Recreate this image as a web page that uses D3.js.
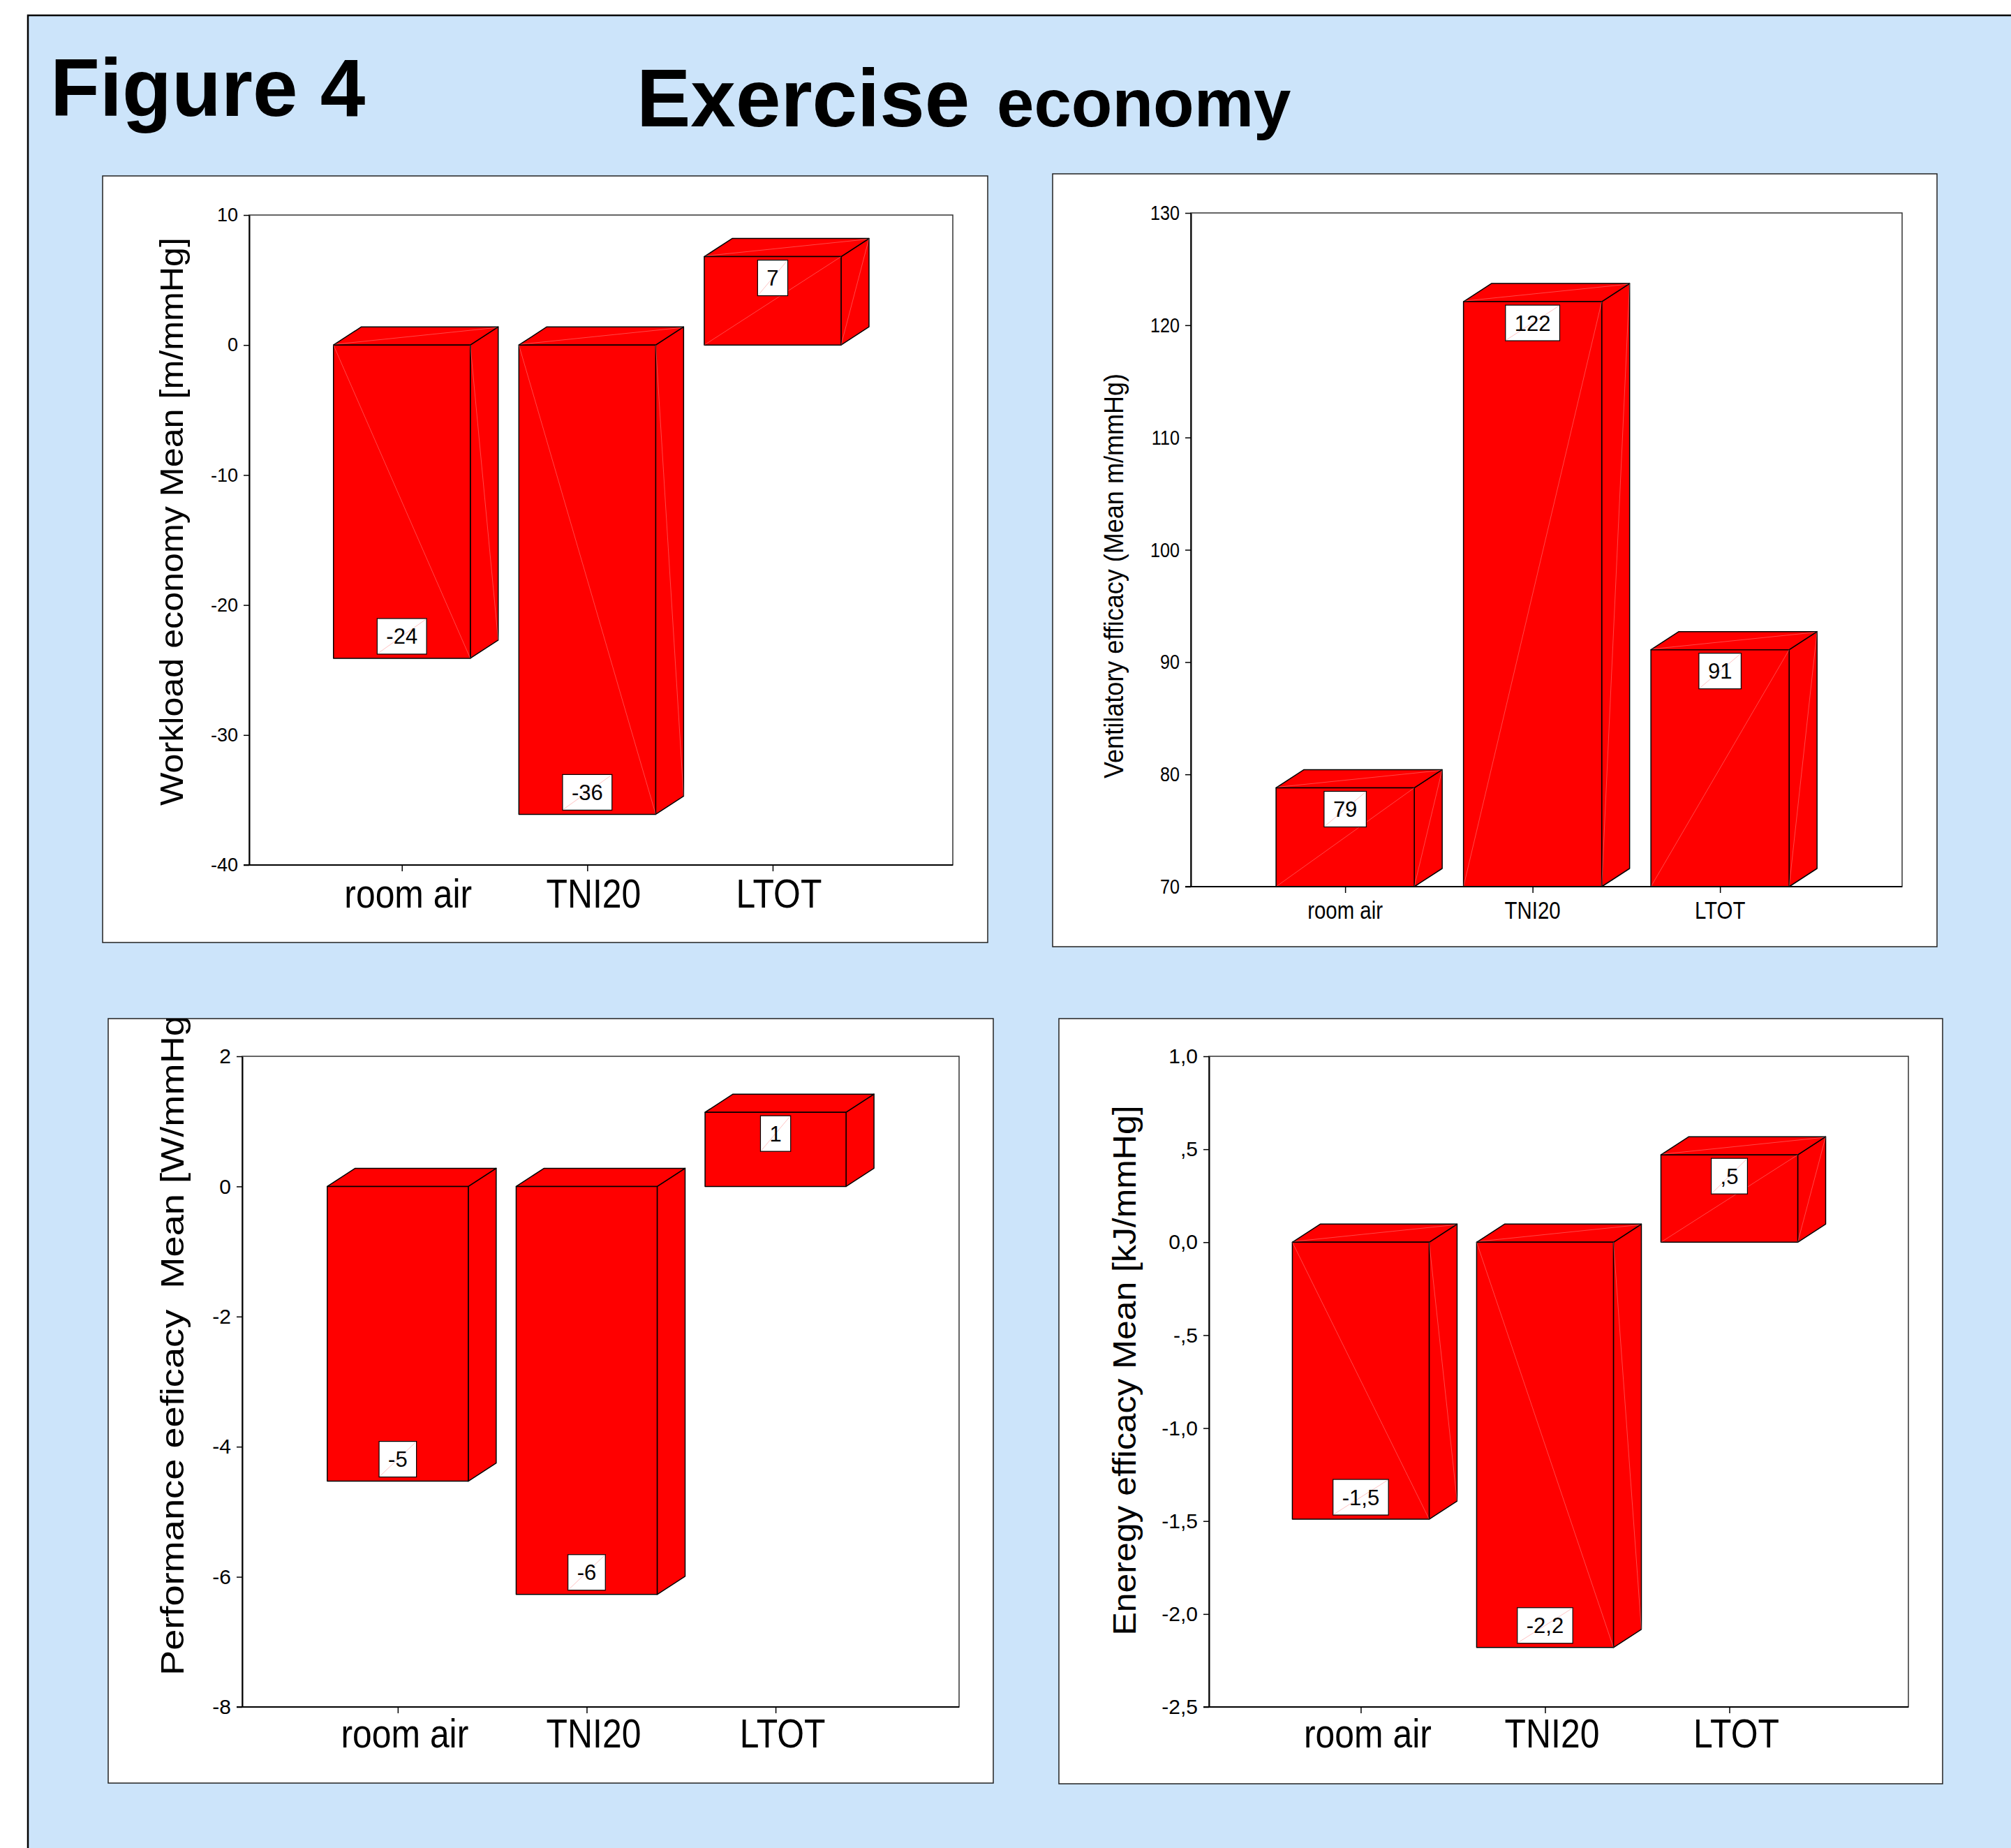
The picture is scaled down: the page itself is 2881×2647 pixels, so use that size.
<!DOCTYPE html>
<html>
<head>
<meta charset="utf-8">
<script src="https://cdn.jsdelivr.net/npm/d3@7"></script>
<style>
  html, body { margin: 0; padding: 0; background: #fff; }
  svg { display: block; font-family: Arial, "Liberation Sans", sans-serif; }
</style>
</head>
<body>
<svg id="fig" width="2881" height="2647"></svg>
<script>
// Dados
const categories = ['room air', 'TNI20', 'LTOT'];

const workloadValues = [-24.1, -36.1, 6.8];
const workloadTicks = [10, 0, -10, -20, -30, -40];

const ventilatoryValues = [78.8, 122.1, 91.1];
const ventilatoryTicks = [130, 120, 110, 100, 90, 80, 70];

const performanceValues = [-4.53, -6.27, 1.14];
const performanceTicks = [2, 0, -2, -4, -6, -8];

const energyValues = [-1.49, -2.18, 0.47];
const energyTicks = [1, 0.5, 0, -0.5, -1, -1.5, -2, -2.5];

// Formatos (hifen normal, virgula decimal estilo SPSS)
const intFmt = v => String(Math.round(v));
const spssFmt = v => {
  let s = Math.abs(v).toFixed(1).replace('.', ',');
  if (s === '0,0') return s;
  if (Math.abs(v) < 1) s = s.slice(1);
  return (v < 0 ? '-' : '') + s;
};

// Layout de cada painel
const panels = [
  {
    values: workloadValues, ticks: workloadTicks, domain: [-40, 10], fmt: intFmt,
    box: [147, 252, 1415, 1350], plot: [357, 308, 1365, 1239],
    barWidth: 196, diag: true,
    tickSize: 27, tickScale: 1,
    catSize: 58, catScale: 0.86, catDy: 61, catDx: 9,
    title: 'Workload economy Mean [m/mmHg]', titleX: 262, titleY: 747,
    titleLen: 814, titleSize: 47, titleAnchor: 'middle'
  },
  {
    values: ventilatoryValues, ticks: ventilatoryTicks, domain: [70, 130], fmt: intFmt,
    box: [1508, 249, 2775, 1356], plot: [1706, 305, 2725, 1270],
    barWidth: 198, diag: true,
    tickSize: 30, tickScale: 0.84,
    catSize: 35, catScale: 0.84, catDy: 46, catDx: 0,
    title: 'Ventilatory efficacy (Mean m/mmHg)', titleX: 1609, titleY: 825,
    titleLen: 580, titleSize: 38, titleAnchor: 'middle'
  },
  {
    values: performanceValues, ticks: performanceTicks, domain: [-8, 2], fmt: intFmt,
    box: [155, 1459, 1423, 2554], plot: [347, 1513, 1374, 2445],
    barWidth: 202, diag: false,
    tickSize: 30, tickScale: 1,
    catSize: 58, catScale: 0.86, catDy: 58, catDx: 10,
    title: 'Performance eeficacy  Mean [W/mmHg]', titleX: 263, titleY: 2400,
    titleLen: 961, titleSize: 46, titleAnchor: 'start'
  },
  {
    values: energyValues, ticks: energyTicks, domain: [-2.5, 1], fmt: spssFmt,
    box: [1517, 1459, 2783, 2555], plot: [1732, 1513, 2734, 2445],
    barWidth: 196, diag: true,
    tickSize: 30, tickScale: 1,
    catSize: 58, catScale: 0.86, catDy: 58, catDx: 10,
    title: 'Eneregy efficacy Mean [kJ/mmHg]', titleX: 1627, titleY: 1963,
    titleLen: 759, titleSize: 46, titleAnchor: 'middle'
  }
];

const depthX = 40;
const depthY = -26;
const barColor = '#ff0000';
const seamColor = 'rgba(255,255,255,0.28)';

const svg = d3.select('#fig');

// Fundo e moldura externa
svg.append('rect').attr('width', 2881).attr('height', 2647).attr('fill', '#fff');
svg.append('rect').attr('x', 40).attr('y', 22).attr('width', 2841).attr('height', 2625).attr('fill', '#cce4fa');
svg.append('path').attr('d', 'M40,2647V22H2881').attr('fill', 'none').attr('stroke', '#000').attr('stroke-width', 2.5);

// Titulos
svg.append('text').attr('x', 72).attr('y', 166)
  .attr('font-size', 116).attr('font-weight', 'bold').text('Figure 4');
svg.append('text').attr('x', 912).attr('y', 181)
  .attr('font-size', 116).attr('font-weight', 'bold').text('Exercise');
svg.append('text').attr('x', 1428).attr('y', 181)
  .attr('font-size', 96).attr('font-weight', 'bold').text('economy');

const drawPanel = (p, idx) => {
  const [bx0, by0, bx1, by1] = p.box;
  const [px0, py0, px1, py1] = p.plot;
  const W = px1 - px0;
  const g = svg.append('g');

  // Caixa branca
  g.append('rect')
    .attr('x', bx0).attr('y', by0).attr('width', bx1 - bx0).attr('height', by1 - by0)
    .attr('fill', '#fff').attr('stroke', '#222').attr('stroke-width', 1.5);

  const clipId = 'clip' + idx;
  g.append('clipPath').attr('id', clipId)
    .append('rect').attr('x', bx0).attr('y', by0).attr('width', bx1 - bx0).attr('height', by1 - by0);

  const x = d3.scalePoint().domain(categories).range([px0 + 0.217 * W, px0 + 0.744 * W]);
  const y = d3.scaleLinear().domain(p.domain).range([py1, py0]);

  // Moldura do grafico
  g.append('rect')
    .attr('x', px0).attr('y', py0).attr('width', W).attr('height', py1 - py0)
    .attr('fill', 'none').attr('stroke', '#333').attr('stroke-width', 1.5);

  // Barras 3D
  const baseVal = p.domain[0] > 0 ? p.domain[0] : 0;
  const bars = g.append('g');
  p.values.forEach((v, i) => {
    const c = categories[i];
    const left = x(c) - p.barWidth / 2;
    const right = left + p.barWidth;
    const yb = y(baseVal);
    const yv = y(v);
    const top = Math.min(yb, yv);
    const bottom = Math.max(yb, yv);
    const bar = bars.append('g');

    const poly = pts => bar.append('polygon')
      .attr('points', pts.map(q => q.join(',')).join(' '))
      .attr('fill', barColor).attr('stroke', '#000').attr('stroke-width', 1.5)
      .attr('stroke-linejoin', 'round');

    poly([[right, top], [right + depthX, top + depthY], [right + depthX, bottom + depthY], [right, bottom]]);
    poly([[left, top], [left + depthX, top + depthY], [right + depthX, top + depthY], [right, top]]);
    poly([[left, top], [right, top], [right, bottom], [left, bottom]]);

    if (p.diag) {
      const seams = [
        [left, yb, right, yv],
        [right, yb, right + depthX, yv + depthY],
        [left + 2, top - 1, right + depthX - 2, top + depthY + 1]
      ];
      seams.forEach(s => bar.append('line')
        .attr('x1', s[0]).attr('y1', s[1]).attr('x2', s[2]).attr('y2', s[3])
        .attr('stroke', seamColor).attr('stroke-width', 1));
    }

    // Rotulo do valor
    const lab = bar.append('g');
    const txt = lab.append('text')
      .attr('font-size', 31).attr('text-anchor', 'middle')
      .text(p.fmt(v));
    const tw = txt.node().getComputedTextLength();
    const bw = tw + 26;
    const bh = 51;
    const boxY = v < baseVal ? yv - 6 - bh : yv + 5;
    const boxX = x(c) - bw / 2;
    lab.insert('rect', 'text')
      .attr('x', boxX).attr('y', boxY).attr('width', bw).attr('height', bh)
      .attr('fill', '#fff').attr('stroke', '#000').attr('stroke-width', 1.2);
    lab.insert('line', 'text')
      .attr('x1', boxX + 1).attr('y1', boxY + bh - 1).attr('x2', boxX + bw - 1).attr('y2', boxY + 1)
      .attr('stroke', '#ffc4c4').attr('stroke-width', 1);
    txt.attr('x', x(c)).attr('y', boxY + bh / 2 + 11);
  });

  // Eixo Y
  const yAxis = g.append('g')
    .attr('transform', `translate(${px0},0)`)
    .call(d3.axisLeft(y).tickValues(p.ticks).tickSize(8).tickSizeOuter(0).tickPadding(8)
      .tickFormat(p.fmt));
  yAxis.select('.domain').attr('stroke', '#000').attr('stroke-width', 2);
  yAxis.selectAll('.tick line').attr('stroke', '#000').attr('stroke-width', 1.5);
  yAxis.selectAll('.tick text')
    .attr('font-size', p.tickSize).attr('font-family', 'Arial, "Liberation Sans", sans-serif')
    .attr('fill', '#000')
    .attr('x', -16 / p.tickScale)
    .attr('transform', `scale(${p.tickScale},1)`);

  // Eixo X
  const xAxis = g.append('g')
    .attr('transform', `translate(0,${py1})`)
    .call(d3.axisBottom(x).tickSize(9).tickSizeOuter(0).tickFormat(''));
  xAxis.select('.domain').attr('stroke', '#000').attr('stroke-width', 2)
    .attr('d', `M${px0 - 8},0H${px1}`);
  xAxis.selectAll('.tick line').attr('stroke', '#000').attr('stroke-width', 1.5);

  g.append('g').selectAll('text')
    .data(categories)
    .join('text')
    .attr('transform', d => `translate(${x(d) + p.catDx},${py1 + p.catDy}) scale(${p.catScale},1)`)
    .attr('text-anchor', 'middle')
    .attr('font-size', p.catSize)
    .text(d => d);

  // Titulo do eixo Y (cortado pela caixa quando passa do limite)
  g.append('g').attr('clip-path', `url(#${clipId})`)
    .append('text')
    .attr('transform', `translate(${p.titleX},${p.titleY}) rotate(-90)`)
    .attr('text-anchor', p.titleAnchor)
    .attr('font-size', p.titleSize)
    .attr('textLength', p.titleLen)
    .attr('lengthAdjust', 'spacingAndGlyphs')
    .style('white-space', 'pre')
    .text(p.title);
};

panels.forEach(drawPanel);
</script>
</body>
</html>
